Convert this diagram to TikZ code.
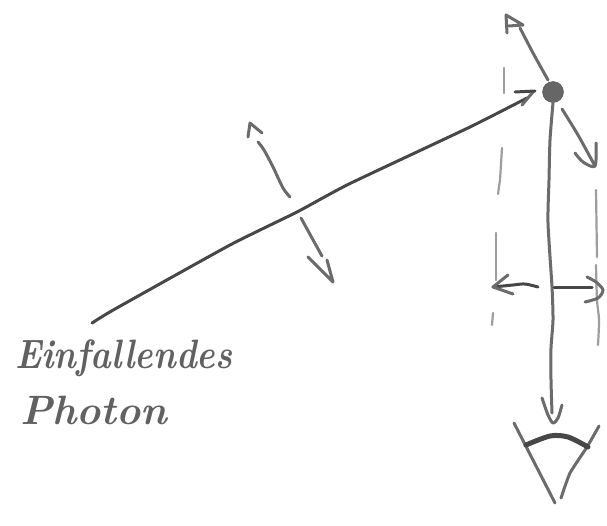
\documentclass[tikz,border=0pt]{standalone}
\usepackage{fontspec}
\usepackage{graphicx}
\setmainfont{Latin Modern Roman}
\begin{document}
\begin{tikzpicture}[x=1pt,y=-1pt,
  pen/.style={draw=black!58,line width=3pt,line cap=round,line join=round},
  thin pen/.style={draw=black!38,line width=2.2pt,line cap=round,line join=round},
  dark pen/.style={draw=black!72,line width=3pt,line cap=round,line join=round},
  thick pen/.style={draw=black!72,line width=5pt,line cap=round,line join=round},
  scribble/.style={text=black!62,inner sep=0pt,anchor=base west,font=\fontsize{41}{41}\selectfont\bfseries\itshape}]
\useasboundingbox (0,0) rectangle (607,525);
\fill[white] (0,0) rectangle (607,525);
% incident ray and the electron
\node[circle,fill=black!60,draw=black!70,minimum size=21pt,inner sep=0pt] (dot) at (553,92) {};
\coordinate (start) at (92,323);
\coordinate (tipa) at (533,92);
\draw[dark pen] plot[smooth,tension=.3] coordinates {(start) (115,309) (230,245) (297,212) (349,184) (470,127) (527,98)};
\draw[pen] (522,105) -- (tipa);
\draw[dark pen] (515,92) -- (535,91);
% polarisation arrows
\draw[pen] plot[smooth] coordinates {(258,142) (264,150) (273,167) (283,188) (290,197)};
\draw[pen] (248,137) -- (250,123) -- (262,133);
\draw[pen] plot[smooth] coordinates {(301,218) (312,238) (322,256)};
\draw[pen] (308,257) -- (333,282) -- (327,260);
% scattered ray up
\coordinate (tipu) at (506,15);
\draw[pen] plot[smooth,tension=.3] coordinates {(548,80) (533,53) (520,28)};
\draw[pen] (507,33) -- (tipu) -- (523,25) -- (509,26);
% right-down arrow
\coordinate (tipr) at (595,166);
\draw[pen] plot[smooth] coordinates {(562,109) (578,135) (tipr)};
\draw[pen] plot[smooth] coordinates {(575,153) (583,162) (tipr) (596,143)};
% main vertical ray
\coordinate (tipv) at (553,423);
\draw[pen] plot[smooth,tension=.4] coordinates {(dot.south) (550,140) (549,180) (548,223) (552,287) (553,320) (551,348) (551,380) (552,413)};
\draw[pen] plot[smooth] coordinates {(542,398) (548,415) (tipv) (558,418) (562,405)};
% dashed guides
\draw[thin pen] (504,68) -- (504,93);
\draw[thin pen] (502,148) -- (500,180) -- (498,194);
\draw[thin pen] (496,233) -- (496,280);
\draw[thin pen] (493,313) -- (492,325);
\draw[thin pen] (596,190) -- (597,257);
\draw[thin pen] plot[smooth] coordinates {(596,265) (597,300) (599,320) (598,345)};
% distance arrows
\coordinate (tipl) at (493,287);
\draw[dark pen] plot[smooth] coordinates {(538,287) (525,284) (513,285) (tipl)};
\draw[pen] (508,275) -- (tipl) -- (513,294);
\coordinate (tipg) at (603,290);
\draw[dark pen] (554,287) -- (592,287);
\draw[pen] plot[smooth] coordinates {(587,277) (596,282) (tipg) (598,298) (585,302)};
% eye
\coordinate (eyeb) at (555,503);
\coordinate (eyec) at (561,498);
\draw[pen] (514,423) -- (eyeb);
\draw[pen] plot[smooth,tension=.3] coordinates {(599,426) (587,447) (570,473) (eyec)};
\draw[thick pen] plot[smooth] coordinates {(526,445) (550,436) (568,437) (588,447)};
% label
\node[scribble] (l1) at (15,368) {\scalebox{.85}[1]{Einfallendes}};
\node[scribble] (l2) at (20,424) {Photon};
\end{tikzpicture}
\end{document}
